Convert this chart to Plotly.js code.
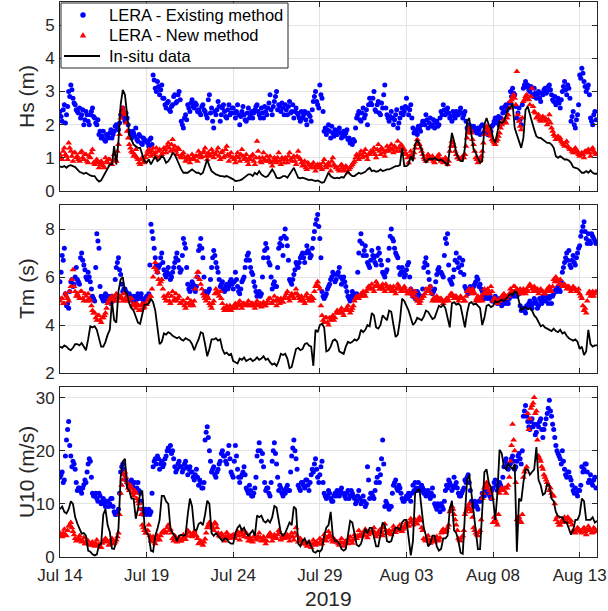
<!DOCTYPE html>
<html>
<head>
<meta charset="utf-8">
<script src="https://cdn.plot.ly/plotly-3.0.1.min.js"></script>
<style>html,body{margin:0;padding:0;background:#fff;}#chart{width:608px;height:611px;}</style>
</head>
<body>
<div id="chart"></div>
<script>
// Values read every 3 hours from 2019-07-14 00:00 (A arrays),
// scatter series also have B arrays read at the half-step (01:30, 04:30, ...).
const startDate = '2019-07-14T00:00:00Z';
const stepHours = 3;
const xTickDates = ['2019-07-14','2019-07-19','2019-07-24','2019-07-29','2019-08-03','2019-08-08','2019-08-13'];
const xTickLabels = ['Jul 14','Jul 19','Jul 24','Jul 29','Aug 03','Aug 08','Aug 13'];
const seriesNames = ['LERA - Existing method','LERA - New method','In-situ data'];

const hsExisting = [
2.40,2.10,2.60,2.30,3.00,3.20,2.80,2.60, 2.40,2.50,2.30,2.00,2.40,2.10,2.30,2.50,
2.20,2.00,1.70,1.60,1.80,1.50,1.65,1.75, 1.60,1.80,2.00,1.85,2.30,2.50,2.10,2.20,
1.80,1.60,1.75,1.90,1.50,1.65,1.40,1.55, 1.50,1.35,1.60,3.50,3.10,3.30,2.90,3.20,
2.80,2.50,2.70,2.40,2.60,2.90,2.70,3.00, 2.10,1.90,2.30,2.60,2.40,2.75,2.50,2.60,
2.45,2.30,2.60,2.40,2.20,2.90,2.50,1.90, 2.30,2.70,2.10,2.50,2.40,2.20,2.60,2.35,
2.50,2.20,2.60,2.00,2.40,2.30,2.10,2.50, 2.30,2.20,2.45,2.60,2.30,2.50,2.20,2.40,
2.50,2.90,2.30,2.70,3.00,2.60,2.40,2.50, 2.60,2.30,2.70,2.40,2.20,2.50,2.30,2.10,
2.20,2.40,2.00,2.30,2.10,2.70,3.00,2.60, 3.20,2.80,1.80,1.70,2.00,1.60,1.75,1.85,
1.70,1.90,1.60,1.80,1.75,1.55,1.45,1.40, 1.50,2.20,2.40,2.10,2.50,2.30,2.00,2.80,
2.60,3.00,2.40,2.70,2.30,2.50,3.20,2.30, 2.10,2.40,2.00,2.30,1.90,2.20,2.50,2.40,
2.80,2.30,2.60,1.90,1.80,1.70,1.90,2.00, 2.10,2.30,1.90,2.20,2.00,1.90,2.10,2.00,
2.40,2.60,2.30,2.50,2.20,2.10,2.30,2.40, 2.30,2.50,2.20,2.40,1.90,2.00,1.80,1.95,
1.80,1.90,1.70,2.00,1.80,1.85,1.75,1.80, 2.00,2.20,2.10,1.95,2.50,2.40,2.60,2.50,
3.00,3.10,2.90,2.20,2.50,2.00,3.10,3.30, 3.20,3.00,2.90,3.10,2.80,3.00,2.70,2.90,
3.10,3.00,3.20,2.90,2.70,2.60,2.80,2.50, 3.00,3.30,2.90,3.10,2.10,2.40,1.90,2.30,
3.50,3.70,3.30,3.00,3.20,2.20,2.00,2.40];
const hsExistingB = [
2.25,2.45,2.05,2.55,2.85,3.05,2.65,2.45, 2.35,2.20,2.45,2.15,2.30,2.00,2.40,2.25,
2.05,2.15,1.80,1.65,1.55,1.70,1.60,1.85, 1.70,1.95,1.90,2.05,2.40,2.20,2.35,2.00,
1.70,1.80,1.65,1.55,1.70,1.45,1.60,1.50, 1.45,1.55,1.40,3.35,3.00,3.15,3.05,2.80,
2.60,2.65,2.45,2.55,2.85,2.65,2.90,2.75, 2.00,2.20,2.15,2.50,2.65,2.55,2.65,2.40,
2.35,2.55,2.45,2.30,2.75,2.35,2.10,2.40, 2.45,2.55,2.30,2.60,2.25,2.45,2.30,2.50,
2.35,2.40,2.30,2.25,2.55,2.15,2.35,2.20, 2.40,2.35,2.55,2.40,2.20,2.35,2.55,2.30,
2.65,2.45,2.55,2.85,2.45,2.55,2.65,2.30, 2.45,2.55,2.35,2.60,2.40,2.35,2.20,2.40,
2.30,2.15,2.35,2.25,2.45,2.85,2.70,2.50, 2.90,2.40,1.90,1.85,1.80,1.95,1.65,1.70,
1.80,1.75,1.70,1.65,1.85,1.60,1.50,1.55, 1.90,2.30,2.15,2.35,2.20,2.45,2.60,2.65,
2.80,2.45,2.60,2.35,2.65,2.90,2.50,2.20, 2.25,2.20,2.15,2.45,2.05,2.35,2.30,2.55,
2.50,2.45,2.20,1.75,1.85,1.95,1.80,2.10, 2.00,2.15,2.05,1.95,2.15,2.05,1.95,2.20,
2.30,2.45,2.40,2.35,2.25,2.40,2.20,2.30, 2.40,2.35,2.30,2.10,1.85,1.95,1.90,1.85,
1.75,1.85,1.95,1.75,1.90,1.70,1.85,1.95, 2.10,2.05,2.25,2.20,2.35,2.55,2.45,2.65,
2.85,2.95,2.55,2.35,2.15,2.60,3.20,3.15, 3.05,3.15,2.85,2.95,2.90,2.80,2.95,3.05,
2.95,3.15,3.05,2.75,2.85,2.70,2.65,2.75, 3.15,3.05,3.20,2.80,2.25,2.00,2.15,2.60,
3.40,3.55,3.15,3.10,2.90,2.10,2.30,2.15];

const hsNew = [
1.10,0.95,1.30,1.05,1.45,1.20,0.90,1.15, 1.05,0.90,1.20,0.95,1.10,0.85,1.00,1.25,
0.80,0.95,0.70,0.90,0.75,1.00,0.85,0.95, 0.80,1.10,0.90,1.40,2.20,2.50,2.30,1.80,
1.40,1.20,1.05,1.25,0.95,0.80,1.00,0.90, 1.10,1.25,1.05,1.30,1.15,1.00,1.25,1.10,
1.30,1.15,1.45,1.20,1.55,1.35,1.10,1.25, 1.00,1.15,0.90,1.05,0.85,1.10,0.95,1.05,
1.20,1.00,1.15,1.30,0.95,1.10,1.25,1.00, 1.10,1.30,0.95,1.20,1.05,1.35,0.90,1.15,
1.00,0.85,1.15,0.90,1.25,0.95,1.10,0.80, 0.95,1.10,0.80,1.50,1.00,0.85,1.15,0.90,
0.90,1.05,0.75,1.00,0.85,1.15,0.80,0.95, 1.00,0.85,1.15,0.90,1.05,0.80,1.20,0.95,
0.75,0.90,0.65,0.80,0.70,0.85,0.60,0.80, 0.80,0.65,0.95,0.70,0.85,0.60,1.00,0.75,
0.70,0.60,0.80,0.65,0.75,0.55,0.70,0.80, 0.90,1.10,0.95,1.20,1.05,1.25,0.95,1.10,
1.15,1.30,1.00,1.40,1.10,1.25,1.05,1.35, 1.20,1.40,1.15,1.30,1.50,1.20,1.35,1.25,
1.10,0.85,1.20,1.00,1.30,1.55,1.40,1.20, 1.00,0.90,1.10,0.95,1.05,0.85,1.00,1.10,
0.90,0.85,1.00,0.80,1.20,1.50,1.35,1.10, 1.00,0.95,1.05,1.10,1.60,1.90,1.75,1.40,
1.00,0.85,0.95,1.20,1.70,1.95,1.80,1.65, 1.50,1.40,1.55,1.75,2.00,2.15,2.05,2.30,
2.70,2.85,2.80,3.60,2.10,1.85,2.70,2.85, 2.80,2.60,3.10,2.40,2.20,2.30,2.10,2.25,
2.20,2.00,2.30,1.90,1.70,1.55,1.65,1.60, 1.45,1.35,1.50,1.30,1.25,1.15,1.30,1.20,
1.05,1.15,1.00,1.20,1.25,1.05,1.30,1.15];
const hsNewB = [
1.00,1.20,1.10,0.95,1.30,1.05,1.15,1.00, 0.95,1.15,1.00,1.10,0.90,1.05,1.15,0.85,
0.90,0.85,0.80,0.85,0.70,0.90,0.95,0.80, 0.90,0.95,1.20,1.70,2.35,2.40,2.05,1.60,
1.30,1.15,1.10,1.00,0.85,0.95,0.85,1.00, 1.20,1.15,1.20,1.10,1.30,1.20,1.05,1.15,
1.25,1.35,1.30,1.40,1.25,1.20,1.30,1.05, 1.10,1.00,0.95,1.00,0.95,1.00,1.05,0.90,
1.10,1.05,1.20,1.05,1.15,1.05,1.15,1.10, 1.20,1.05,1.15,1.00,1.25,1.10,1.05,1.00,
0.95,1.05,1.00,1.10,1.05,1.00,0.90,1.00, 1.05,0.90,1.00,1.20,0.90,1.00,0.95,1.05,
0.95,0.85,0.90,0.95,1.00,0.90,1.00,0.85, 0.95,1.05,0.95,1.00,0.90,1.05,1.00,0.85,
0.80,0.70,0.85,0.75,0.80,0.70,0.75,0.70, 0.70,0.85,0.75,0.80,0.75,0.90,0.80,0.70,
0.65,0.75,0.70,0.60,0.70,0.65,0.75,0.85, 1.00,1.05,1.10,1.00,1.15,1.05,1.10,1.20,
1.20,1.10,1.25,1.20,1.30,1.15,1.20,1.25, 1.30,1.25,1.35,1.20,1.30,1.40,1.25,1.15,
1.00,1.05,1.10,1.15,1.40,1.45,1.30,1.10, 0.95,1.00,1.05,1.00,0.90,0.95,1.05,0.95,
0.95,0.90,0.95,0.90,1.35,1.45,1.20,1.00, 0.95,1.00,1.00,1.35,1.75,1.85,1.55,1.20,
0.95,0.90,1.05,1.45,1.85,1.90,1.70,1.55, 1.45,1.50,1.65,1.90,2.05,2.10,2.20,2.50,
2.75,2.90,2.60,2.30,1.95,2.20,2.75,2.90, 2.75,2.85,2.55,2.35,2.25,2.15,2.20,2.15,
2.10,2.15,2.05,1.80,1.65,1.60,1.55,1.50, 1.40,1.45,1.35,1.25,1.20,1.25,1.15,1.10,
1.10,1.10,1.20,1.15,1.15,1.25,1.20,1.10];

const hsInsitu = [
0.74,0.72,0.75,0.70,0.76,0.78,0.75,0.72, 0.65,0.58,0.55,0.52,0.55,0.50,0.47,0.45,
0.45,0.35,0.28,0.32,0.45,0.53,0.70,0.80, 0.80,1.35,0.80,1.50,2.60,3.05,2.90,2.30,
1.70,1.55,1.40,1.35,1.30,1.30,1.10,0.90, 0.85,0.95,0.80,0.95,1.05,0.90,0.95,1.05,
1.00,0.85,0.90,1.00,1.15,1.10,0.95,0.75, 0.65,0.55,0.55,0.55,0.60,0.65,0.60,0.55,
0.55,0.50,0.55,0.75,0.95,0.75,0.60,0.55, 0.50,0.48,0.45,0.45,0.43,0.45,0.42,0.40,
0.35,0.30,0.30,0.32,0.35,0.40,0.45,0.50, 0.50,0.45,0.55,0.50,0.60,0.50,0.45,0.42,
0.45,0.55,0.65,0.55,0.40,0.38,0.40,0.45, 0.45,0.40,0.50,0.60,0.70,0.55,0.40,0.38,
0.40,0.38,0.35,0.33,0.34,0.32,0.30,0.32, 0.28,0.25,0.27,0.40,0.55,0.45,0.40,0.38,
0.40,0.38,0.42,0.40,0.50,0.60,0.50,0.45, 0.45,0.50,0.55,0.52,0.55,0.58,0.65,0.70,
0.60,0.62,0.58,0.60,0.65,0.60,0.62,0.65, 0.65,0.68,0.72,0.75,0.75,0.78,1.30,0.75,
0.75,0.80,1.05,0.90,1.40,1.55,1.40,1.25, 1.00,0.85,0.95,0.98,0.95,1.00,0.95,0.92,
0.95,0.90,0.85,0.75,1.20,1.75,1.50,1.15, 1.00,0.90,0.90,1.30,2.10,2.20,1.70,1.25,
1.15,1.00,0.85,0.90,2.00,2.20,2.00,1.90, 1.60,1.45,1.80,2.10,2.05,2.10,2.30,2.50,
2.50,2.65,1.90,1.70,1.50,1.30,1.60,2.45, 2.55,2.30,2.05,1.85,1.65,1.60,1.60,1.55,
1.50,1.45,1.45,1.40,1.30,1.05,1.00,1.05, 1.00,0.95,0.95,0.92,0.85,0.72,0.70,0.68,
0.62,0.55,0.55,0.60,0.55,0.62,0.55,0.52,0.52];

const tmExisting = [
5.80,6.90,7.20,4.80,4.70,5.80,5.60,6.00, 5.90,5.70,7.00,6.50,6.00,6.20,5.80,5.20,
5.00,7.80,7.20,5.20,5.00,5.30,5.10,5.00, 5.20,5.10,6.40,6.80,6.10,5.40,5.50,5.30,
5.30,5.10,5.20,5.00,5.30,5.20,5.10,5.00, 5.20,5.30,8.20,7.60,6.80,6.20,6.50,7.00,
6.30,6.00,6.40,5.90,6.20,6.60,7.00,6.40, 6.30,7.60,7.20,5.70,5.40,5.80,5.50,5.60,
7.10,7.60,6.80,5.40,5.30,5.50,6.40,7.10, 6.60,6.20,5.60,5.80,5.40,5.70,5.60,5.90,
5.50,6.20,5.60,5.30,5.80,6.00,6.70,7.00, 6.40,6.10,5.60,5.20,5.40,5.30,6.80,7.40,
6.80,6.50,5.50,5.80,5.60,7.20,7.60,6.90, 8.00,7.30,5.90,5.70,6.10,6.60,6.40,6.80,
7.00,6.60,7.30,7.00,6.90,7.60,8.20,8.60, 7.60,5.40,5.10,5.30,5.60,5.90,6.20,5.80,
6.10,6.40,5.70,6.00,5.60,5.20,5.00,5.40, 5.10,5.30,7.00,7.80,6.90,7.30,6.60,6.40,
7.10,6.80,6.50,7.20,6.70,6.20,6.00,6.30, 7.20,8.00,7.50,7.00,6.80,6.10,6.40,6.00,
6.30,6.60,5.50,5.20,5.10,5.40,5.00,5.20, 6.40,6.80,6.20,5.60,5.30,5.50,6.10,6.40,
6.20,6.00,7.60,7.80,5.90,5.70,6.30,7.00, 6.40,6.20,6.70,5.60,5.40,5.50,5.40,5.60,
5.80,5.90,5.70,5.40,5.10,5.20,5.30,5.10, 5.00,5.20,4.90,5.10,4.80,5.00,5.10,4.90,
5.20,5.30,5.40,5.20,5.30,4.60,4.70,4.50, 4.80,5.00,4.70,5.10,4.90,4.80,5.00,5.20,
5.00,5.20,5.10,4.90,5.30,5.50,5.60,5.40, 6.20,6.60,7.00,7.10,6.40,6.90,6.50,7.00,
7.30,7.90,8.30,7.60,7.80,7.40,7.70,7.50];
const tmExistingB = [
6.20,6.70,5.30,4.90,5.40,5.90,5.70,6.40, 5.80,6.80,6.70,6.30,5.90,6.00,5.50,5.10,
6.40,7.50,5.60,5.10,5.20,5.00,5.20,4.90, 5.00,5.90,6.60,6.30,5.70,5.50,5.40,5.20,
5.20,5.00,5.10,5.20,5.10,5.30,5.00,5.10, 5.10,6.50,7.90,7.20,6.50,6.40,6.80,6.60,
6.10,6.20,6.10,6.00,6.40,6.80,6.70,6.20, 6.90,7.40,6.40,5.50,5.60,5.70,5.40,6.00,
7.30,7.20,6.00,5.20,5.40,5.90,6.80,6.90, 6.40,5.90,5.70,5.50,5.60,5.50,5.80,5.70,
5.80,5.90,5.40,5.50,5.90,6.40,6.90,6.70, 6.20,5.80,5.40,5.30,5.20,6.00,7.10,7.20,
6.60,6.00,5.70,5.60,6.40,7.40,7.30,7.70, 7.60,6.70,5.80,5.90,6.30,6.50,6.60,6.90,
6.80,7.00,7.10,6.80,7.20,7.90,8.40,8.10, 6.80,5.20,5.20,5.50,5.70,6.00,6.10,5.90,
6.20,6.00,5.90,5.80,5.40,5.10,5.20,5.30, 5.20,6.20,7.50,7.40,7.10,6.90,6.50,6.70,
6.90,6.60,6.90,7.00,6.50,6.10,6.20,6.70, 7.70,7.60,7.20,6.90,6.40,6.20,6.20,6.10,
6.50,6.00,5.30,5.40,5.20,5.30,5.10,5.50, 6.60,6.50,5.90,5.40,5.40,5.80,6.30,6.20,
6.10,6.90,7.40,6.50,5.80,6.00,6.70,6.60, 6.80,6.50,6.10,5.50,5.30,5.60,5.50,5.70,
6.00,5.60,5.50,5.20,5.30,5.10,5.20,5.00, 5.10,5.00,5.00,4.90,5.10,4.90,5.00,5.10,
5.30,5.20,5.30,5.40,4.80,4.70,4.60,4.80, 4.90,4.80,4.90,5.00,4.70,5.10,4.90,5.10,
5.10,4.90,5.20,5.20,5.40,5.40,5.50,5.80, 6.40,6.80,6.70,6.50,6.70,6.60,6.80,7.20,
7.70,8.10,7.90,7.40,7.50,7.80,7.60,7.40];

const tmNew = [
5.00,5.10,4.90,5.20,5.00,5.60,6.30,5.40, 5.30,5.10,5.40,5.00,5.20,5.30,5.00,4.60,
4.50,4.20,4.40,4.10,4.30,4.50,4.90,5.10, 5.20,5.00,5.30,5.10,5.20,5.00,5.10,5.20,
5.00,5.10,4.90,4.70,4.80,4.60,4.90,4.75, 4.85,5.10,5.20,6.00,6.60,6.20,5.70,5.90,
5.20,5.00,5.30,4.90,5.40,5.10,5.00,5.20, 4.90,5.00,4.70,5.10,4.80,4.90,5.00,6.00,
6.20,5.70,5.30,5.10,5.20,4.90,4.70,5.00, 5.50,5.30,5.40,4.90,4.60,4.80,4.70,4.60,
4.70,4.90,4.80,5.00,4.70,4.90,4.85,5.00, 4.80,4.90,4.70,5.00,4.85,4.75,4.95,4.80,
5.00,5.10,4.90,5.20,4.80,5.00,5.10,4.95, 5.20,5.40,5.00,5.30,5.10,5.50,5.20,5.00,
5.10,4.90,5.30,5.00,5.20,5.10,5.60,5.80, 5.50,4.40,4.10,4.30,4.00,4.20,4.40,4.30,
4.60,4.50,4.70,4.40,4.60,4.80,4.50,4.70, 5.00,5.20,5.10,5.30,5.40,5.20,5.50,5.60,
5.70,5.40,5.80,5.60,5.50,5.70,5.40,5.60, 5.50,5.40,5.60,5.30,5.70,5.50,5.40,5.60,
5.40,5.30,5.50,5.20,5.40,5.00,4.90,5.10, 5.20,5.50,5.40,5.60,5.00,5.10,5.20,5.00,
5.10,4.90,5.00,5.10,5.20,5.30,5.10,5.20, 5.00,5.20,5.10,5.00,5.40,5.50,5.30,5.40,
5.00,5.20,5.10,5.00,5.50,5.30,5.40,5.60, 5.00,5.10,4.90,5.00,5.20,5.30,5.10,5.20,
5.50,5.40,5.60,5.50,5.30,5.40,5.50,5.30, 5.40,5.70,5.50,5.60,5.40,5.30,5.50,5.40,
5.30,5.50,5.60,5.40,5.90,6.00,5.80,5.90, 5.60,5.70,5.50,5.60,5.40,5.60,5.50,5.40,
5.30,5.10,4.60,4.50,5.30,5.20,5.40,5.30];
const tmNewB = [
5.10,4.90,5.30,5.10,5.40,5.90,5.60,5.20, 5.20,5.40,5.10,5.30,5.00,5.10,4.80,4.50,
4.30,4.40,4.20,4.30,4.40,4.70,5.00,5.00, 5.10,5.20,5.00,5.20,5.10,5.30,5.00,5.10,
5.10,4.80,4.80,4.90,4.60,4.80,4.70,4.90, 5.00,5.20,5.50,6.40,6.30,5.90,5.80,5.50,
5.10,5.20,5.00,5.20,5.00,5.30,5.10,4.90, 5.00,4.80,4.90,4.90,5.00,4.80,5.50,6.20,
5.90,5.50,5.20,5.00,5.10,4.80,4.90,5.30, 5.40,5.20,5.10,4.70,4.70,4.60,4.80,4.70,
4.80,4.70,4.90,4.80,4.90,4.80,4.90,4.80, 4.90,4.80,4.90,4.80,4.90,4.90,4.80,4.90,
5.10,4.90,5.00,5.00,5.10,4.90,5.00,5.10, 5.30,5.10,5.20,5.20,5.30,5.30,5.10,5.20,
5.00,5.20,5.10,5.10,5.00,5.40,5.70,5.60, 4.80,4.20,4.30,4.10,4.30,4.30,4.20,4.50,
4.50,4.60,4.50,4.60,4.70,4.60,4.60,4.80, 5.10,5.10,5.20,5.20,5.30,5.40,5.60,5.50,
5.50,5.60,5.70,5.50,5.60,5.50,5.70,5.50, 5.60,5.50,5.40,5.50,5.60,5.40,5.50,5.50,
5.30,5.40,5.30,5.30,5.10,5.00,5.00,5.20, 5.30,5.40,5.50,5.30,5.10,5.00,5.10,5.10,
5.00,5.00,5.10,5.00,5.30,5.20,5.20,5.10, 5.10,5.10,5.00,5.20,5.40,5.40,5.50,5.30,
5.10,5.00,5.20,5.30,5.40,5.50,5.30,5.40, 5.10,5.00,5.00,5.10,5.20,5.20,5.20,5.30,
5.40,5.60,5.40,5.40,5.50,5.30,5.40,5.50, 5.60,5.60,5.40,5.50,5.50,5.40,5.40,5.30,
5.40,5.40,5.50,5.60,5.80,5.90,5.70,5.70, 5.60,5.60,5.60,5.50,5.50,5.50,5.40,5.50,
5.20,4.80,4.70,5.00,5.40,5.30,5.20,5.40];

const tmInsitu = [
3.10,3.05,3.15,3.10,3.00,2.95,3.05,3.20, 3.20,3.15,3.25,3.10,2.95,3.40,3.95,3.90,
3.95,3.80,3.40,3.10,3.10,3.30,3.60,3.80, 5.00,4.20,4.10,5.40,5.90,6.00,5.40,5.30,
4.90,4.70,4.60,4.30,4.10,4.05,4.40,4.85, 4.85,4.90,5.10,4.95,4.60,3.80,3.20,3.30,
3.65,3.60,3.70,3.65,3.55,3.50,3.45,3.50, 3.40,3.35,3.45,3.40,3.35,3.20,2.95,3.20,
3.40,3.70,3.65,3.20,2.70,3.00,3.40,3.40, 3.45,3.35,3.40,3.00,2.80,2.85,2.75,2.80,
2.50,2.45,2.40,2.60,2.55,2.65,2.50,2.55, 2.60,2.50,2.55,2.65,2.55,2.60,2.70,2.55,
2.60,2.45,2.35,2.40,2.30,2.50,2.80,2.75, 2.80,2.60,2.20,2.25,2.70,3.00,3.05,2.95,
3.00,3.20,3.25,3.15,3.10,2.30,3.80,3.70, 4.00,4.05,3.90,2.90,2.95,3.10,3.35,3.40,
3.30,2.90,2.85,2.80,3.10,3.30,3.25,3.30, 3.40,3.35,3.45,3.80,3.70,3.80,4.00,3.95,
4.50,4.40,3.90,3.85,4.00,4.40,4.30,4.20, 4.60,4.55,4.00,3.50,3.60,4.20,5.10,5.00,
4.80,4.60,4.30,4.00,4.10,4.30,4.25,4.20, 4.35,4.60,4.55,4.40,4.25,4.30,4.60,4.80,
4.75,4.85,4.70,4.30,3.90,4.90,4.95,4.85, 4.90,4.80,4.40,3.90,4.50,4.90,4.95,4.85,
4.90,4.80,4.70,4.00,4.30,4.80,4.85,4.75, 4.80,5.00,4.95,5.00,5.05,5.00,5.10,5.20,
5.30,5.25,5.40,5.35,5.00,4.60,4.70,4.75, 4.65,4.70,4.60,4.40,4.30,4.10,3.95,4.00,
3.90,3.85,3.80,3.75,3.85,3.75,3.70,3.80, 3.65,3.70,3.55,3.45,3.40,3.35,3.40,3.30,
3.00,3.10,2.75,2.90,3.80,3.20,3.10,3.15,3.15];

const u10Existing = [
15.0,16.0,14.5,22.0,25.5,19.0,18.0,16.5, 12.5,13.0,12.0,13.6,14.0,17.5,18.0,12.0,
11.5,11.0,12.0,10.0,11.0,9.5,10.5,10.0, 11.0,8.5,8.0,9.0,16.0,17.5,15.5,14.0,
13.5,14.5,13.0,12.5,14.0,12.0,9.0,8.5, 8.0,9.0,8.5,17.0,18.5,19.0,16.5,18.0,
17.5,19.0,20.5,21.0,20.0,17.0,16.5,18.0, 17.0,16.5,18.0,15.5,17.0,16.0,14.5,16.5,
13.5,14.0,13.0,22.0,24.5,20.0,16.0,17.0, 15.0,16.5,18.0,20.0,19.0,17.5,21.0,16.0,
15.0,21.0,16.5,14.0,15.5,17.0,13.0,12.0, 12.5,11.5,13.0,19.0,21.5,18.0,17.0,12.5,
13.0,11.5,18.0,21.5,17.5,12.5,13.0,11.5, 12.0,13.5,12.5,19.0,22.0,18.5,13.5,12.5,
14.0,13.0,14.5,12.5,15.5,16.0,18.5,15.0, 15.5,18.0,12.0,11.0,12.5,11.0,10.5,12.0,
12.5,11.5,13.0,12.0,11.0,12.5,11.5,12.0, 11.0,10.5,12.5,10.0,11.5,9.5,17.0,11.0,
12.0,11.0,14.0,16.5,15.5,22.0,9.5,10.0, 9.0,9.5,13.5,14.5,12.5,13.0,11.0,10.5,
11.5,12.0,10.5,13.5,14.0,12.5,13.0,13.5, 12.0,11.5,12.5,11.0,13.0,10.0,9.0,9.5,
10.0,9.0,12.5,13.0,14.0,12.5,15.0,14.0, 12.0,11.5,12.5,14.5,15.0,14.0,10.5,9.5,
10.0,9.0,10.5,12.0,11.5,13.0,12.5,11.0, 13.0,14.5,12.5,14.0,13.0,17.0,18.5,16.5,
17.5,19.0,16.5,18.0,19.5,17.5,26.5,28.5, 25.5,24.0,26.0,25.0,23.5,24.5,26.0,22.5,
25.0,27.0,29.5,26.5,24.0,21.0,19.5,18.5, 20.0,16.5,15.0,16.0,14.5,12.5,13.0,11.5,
12.5,17.0,16.5,17.5,14.0,15.5,13.5,15.0];
const u10ExistingB = [
15.5,14.0,19.0,24.0,21.0,17.0,17.5,14.0, 13.0,12.5,13.0,14.5,16.0,18.5,15.0,11.5,
12.0,10.5,11.5,10.5,10.0,10.5,9.5,11.0, 9.5,8.0,8.5,12.0,17.0,16.5,14.5,13.5,
14.0,13.5,14.0,13.0,12.5,10.5,8.0,9.0, 8.5,8.0,12.0,18.0,17.5,18.5,17.5,17.0,
18.5,20.0,20.0,19.5,18.5,16.0,17.5,17.0, 16.0,17.5,17.0,16.5,16.0,15.0,15.5,15.0,
14.5,13.0,14.0,23.5,22.5,18.0,16.5,15.5, 16.0,17.5,19.5,19.0,18.0,19.5,18.5,15.5,
18.0,19.0,15.0,15.0,16.0,15.5,12.5,13.5, 11.5,12.0,15.0,20.0,20.0,19.5,14.0,13.0,
12.0,14.0,20.0,19.5,15.0,13.5,12.0,12.5, 13.0,12.5,16.0,20.5,20.0,16.5,13.0,14.0,
13.5,14.5,13.5,14.0,16.5,17.5,16.5,14.0, 17.0,14.0,11.5,11.5,12.0,10.5,11.5,11.5,
12.0,12.5,12.0,11.5,12.0,11.0,12.5,11.5, 10.0,11.5,11.0,10.5,10.5,10.0,14.5,12.0,
11.5,12.5,15.0,14.0,18.5,17.5,10.5,9.5, 9.5,12.0,14.0,13.0,13.5,12.0,10.5,11.0,
11.0,11.5,12.0,12.5,13.0,14.0,12.5,13.0, 12.5,12.0,11.5,12.0,11.5,9.5,10.0,8.5,
9.5,10.5,13.5,14.5,13.5,13.0,13.5,13.0, 11.5,12.0,13.0,14.0,15.5,12.5,10.0,10.5,
9.5,10.5,11.0,11.5,12.5,12.0,11.5,12.5, 14.0,13.5,13.0,13.5,15.0,18.0,17.5,17.5,
18.5,18.0,17.0,19.0,18.5,20.0,27.5,26.5, 24.5,25.5,24.5,23.0,25.0,25.5,24.0,24.0,
26.0,28.0,27.5,25.0,22.5,20.0,19.0,17.5, 18.0,15.5,16.0,15.0,13.5,12.0,12.0,12.5,
13.5,16.0,17.5,16.0,14.5,14.0,14.5,13.0];

const u10New = [
4.5,3.8,5.2,4.0,5.8,6.5,4.8,3.5, 3.2,4.0,2.8,3.6,2.5,3.0,2.2,2.8,
2.0,3.2,2.4,1.8,2.9,3.5,3.0,2.5, 3.5,2.5,3.2,4.5,12.0,14.5,16.0,14.0,
12.5,13.0,11.5,12.0,10.5,9.0,6.0,5.0, 4.5,6.0,3.0,3.8,2.5,4.0,3.2,4.5,
5.0,4.5,6.0,5.2,3.5,4.0,2.8,3.6, 3.0,4.2,3.3,5.0,4.5,3.8,4.8,4.0,
2.5,3.0,2.2,3.4,5.5,6.5,6.0,5.0, 6.2,4.5,3.8,4.2,3.0,4.6,3.5,4.0,
4.2,3.5,4.8,3.2,5.0,3.8,4.5,3.0, 3.5,2.8,4.0,3.2,4.5,3.0,3.8,2.5,
3.8,4.5,3.0,4.2,3.5,5.0,3.2,4.0, 3.6,4.2,3.0,4.5,3.2,5.5,2.8,3.5,
2.5,3.0,2.0,2.8,1.8,3.2,2.2,2.6, 3.5,2.5,4.2,3.0,4.8,3.8,2.8,3.2,
2.8,2.2,3.5,2.0,3.0,2.5,3.8,2.6, 4.2,3.5,5.0,3.8,4.5,5.2,3.6,4.8,
4.5,5.5,3.8,4.6,5.2,4.0,6.2,4.4, 5.0,4.2,5.8,4.6,5.4,6.0,4.8,5.5,
6.5,5.8,7.2,6.0,7.0,6.2,7.5,5.5, 3.5,3.0,4.0,2.6,3.5,2.8,3.8,3.2,
4.5,5.2,4.8,5.5,8.5,9.5,8.0,6.0, 3.5,3.0,4.0,8.0,9.0,10.0,8.5,5.5,
4.5,4.0,5.0,11.0,13.0,14.0,13.5,12.0, 6.5,7.0,6.0,12.0,13.0,12.5,12.0,13.5,
18.0,25.0,20.0,7.0,7.5,6.5,15.0,16.5, 27.0,26.0,28.5,30.0,27.5,19.0,18.0,16.5,
15.0,14.0,12.5,12.0,11.5,7.0,6.5,6.0, 7.0,7.5,6.5,7.2,6.8,5.0,4.5,5.5,
5.0,4.5,5.5,4.2,5.8,5.0,4.6,5.2];
const u10NewB = [
4.0,4.5,4.2,5.0,6.0,5.5,4.2,3.0, 3.5,3.2,3.0,2.5,3.2,2.4,2.6,2.2,
2.6,2.2,2.0,2.6,3.2,2.8,2.2,3.0, 3.0,2.8,3.8,8.0,13.5,15.5,15.0,13.0,
13.5,12.0,12.5,11.0,10.0,8.0,5.5,4.5, 5.0,4.0,3.5,2.8,3.2,3.5,4.0,4.8,
4.8,5.5,5.0,4.5,3.0,3.5,3.2,3.0, 3.5,3.8,4.0,4.6,4.0,4.4,4.2,3.5,
2.8,2.6,2.8,4.5,6.0,5.8,5.5,6.5, 5.5,4.0,4.4,3.6,3.8,4.0,3.8,3.6,
3.8,4.2,4.0,4.5,4.2,4.4,3.6,3.8, 3.0,3.8,3.5,3.8,3.6,3.4,3.2,3.0,
4.2,3.8,3.6,3.8,4.2,4.5,3.8,3.5, 3.8,3.6,3.8,3.8,4.5,4.0,3.2,3.0,
2.8,2.4,2.6,2.2,2.4,2.6,2.8,2.4, 3.0,3.2,3.6,3.6,4.2,3.2,3.4,2.8,
2.5,2.8,2.6,2.8,2.6,3.2,3.0,3.2, 3.8,4.0,4.2,4.4,4.0,4.6,4.2,4.5,
5.0,4.5,4.2,5.0,4.6,5.5,5.0,4.8, 4.6,5.0,5.2,5.0,5.0,5.5,5.2,6.0,
6.0,6.5,6.8,6.5,6.5,7.0,6.8,5.0, 3.2,3.4,3.2,3.0,3.2,3.4,3.0,3.6,
5.0,4.6,5.0,6.0,9.0,9.0,7.0,5.0, 3.2,3.6,5.0,8.5,9.5,9.0,7.5,5.0,
4.2,4.6,7.0,12.0,13.5,13.0,12.5,11.0, 7.5,6.5,8.0,12.5,12.5,13.0,13.0,15.0,
21.0,22.0,14.0,7.5,6.8,8.0,16.0,17.0, 24.0,28.0,29.0,27.0,22.0,18.5,17.0,15.5,
14.5,13.5,13.0,11.5,10.0,7.5,6.0,6.5, 6.8,7.0,7.5,6.5,6.0,4.8,5.0,5.2,
4.8,5.2,4.8,5.0,5.2,4.5,5.5,4.8];

const u10Insitu = [
9.0,9.5,8.5,8.2,9.0,10.5,10.0,7.5, 6.3,5.5,4.4,4.5,4.0,1.2,1.0,0.5,
0.3,0.5,2.2,2.5,8.0,9.0,6.0,4.7, 1.6,1.5,3.0,5.3,15.0,18.0,18.5,13.0,
12.5,11.0,11.0,7.2,9.0,12.0,12.5,6.0, 4.5,4.0,1.2,1.0,4.0,5.3,7.0,11.5,
11.5,10.5,10.0,5.4,4.5,4.0,3.0,4.0, 4.2,4.0,4.2,8.0,11.0,9.5,5.2,5.0,
6.2,6.5,6.0,8.0,10.6,10.0,4.5,4.0, 4.5,4.0,3.4,3.0,3.5,3.4,2.8,2.5,
2.5,4.5,5.5,6.0,5.0,5.5,4.5,4.0, 4.5,5.0,4.0,7.8,7.5,7.8,6.8,6.5,
7.0,6.5,7.5,9.6,9.3,7.0,4.5,4.0, 4.5,5.5,6.5,6.0,9.5,9.0,2.5,2.0,
3.0,3.5,2.5,3.0,2.0,1.0,0.8,1.2, 1.0,1.5,4.0,5.5,6.0,8.5,4.0,3.0,
3.0,2.5,1.5,1.2,1.5,4.0,6.8,6.5, 4.0,2.3,2.0,2.5,4.0,5.3,4.5,5.5,
5.5,3.5,2.0,2.0,4.0,6.5,6.0,3.0, 2.8,3.0,4.5,5.5,5.5,5.0,6.5,7.0,
7.0,4.0,0.3,3.0,12.0,12.5,12.8,9.0, 5.5,4.0,2.0,2.5,4.0,4.0,2.0,1.2,
1.5,3.5,3.5,4.0,9.0,10.6,5.0,4.5, 3.0,0.8,0.6,8.0,14.5,15.5,12.0,8.5,
6.0,1.5,1.5,10.0,16.0,16.5,14.0,13.0, 11.0,7.0,12.0,20.2,19.5,17.0,16.5,17.5,
17.0,16.5,17.5,1.0,11.0,10.5,14.0,16.5, 16.5,15.5,16.0,16.5,20.7,14.5,13.5,11.7,
12.0,13.8,13.5,11.0,10.5,8.5,7.7,7.5, 7.5,6.5,6.5,5.5,4.2,5.0,7.0,7.0,
8.0,11.0,10.5,7.0,7.0,7.0,7.5,6.5,6.8];

function stamp(ms){ return new Date(ms).toISOString().slice(0,16).replace('T',' '); }
function timesFor(n, offsetHours){
  const t0 = Date.parse(startDate);
  const out = [];
  for (let i = 0; i < n; i++) out.push(stamp(t0 + (i * stepHours + offsetHours) * 3600000));
  return out;
}
function merged(a, b){
  const ta = timesFor(a.length, 0), tb = timesFor(b.length, stepHours / 2);
  const x = [], y = [];
  for (let i = 0; i < Math.max(a.length, b.length); i++) {
    if (i < a.length) { x.push(ta[i]); y.push(a[i]); }
    if (i < b.length) { x.push(tb[i]); y.push(b[i]); }
  }
  return {x, y};
}

const BLUE = 'rgb(0,0,255)', RED = 'rgb(255,0,0)', BLACK = '#000000';
const FONT = 'Liberation Sans, Arial, Helvetica, sans-serif';
const AX = '#262626';

function group(ex, exB, nw, nwB, insitu, xa, ya){
  const e = merged(ex, exB), n = merged(nw, nwB);
  return [
    {x: e.x, y: e.y, xaxis: xa, yaxis: ya, type:'scatter', mode:'markers',
     name: seriesNames[0], showlegend:false,
     marker:{symbol:'circle', size:5, color:BLUE, line:{width:0}}},
    {x: n.x, y: n.y, xaxis: xa, yaxis: ya, type:'scatter', mode:'markers',
     name: seriesNames[1], showlegend:false,
     marker:{symbol:'triangle-up', size:6, color:RED, line:{width:0}}},
    {x: timesFor(insitu.length, 0), y: insitu, xaxis: xa, yaxis: ya, type:'scatter', mode:'lines',
     name: seriesNames[2], showlegend:false,
     line:{color:BLACK, width:1.8}}
  ];
}

const data = [].concat(
  group(hsExisting, hsExistingB, hsNew, hsNewB, hsInsitu, 'x3', 'y3'),
  group(tmExisting, tmExistingB, tmNew, tmNewB, tmInsitu, 'x2', 'y2'),
  group(u10Existing, u10ExistingB, u10New, u10NewB, u10Insitu, 'x', 'y')
);

function xAxis(anchor, showLabels){
  return {
    type:'date', anchor: anchor, domain:[0,1],
    range:['2019-07-14','2019-08-14'],
    tickvals: xTickDates, ticktext: xTickLabels, showticklabels: showLabels,
    ticklabeloverflow:'allow', ticklabelstandoff: 3,
    ticks:'inside', ticklen:5, tickcolor: AX, mirror:'ticks',
    showline:true, linecolor:AX, linewidth:1,
    showgrid:true, gridcolor:'#e3e3e3', gridwidth:1, zeroline:false,
    tickfont:{family:FONT, size:17, color:AX}
  };
}
function yAxis(domain, range, tickvals){
  return {
    domain: domain, range: range, tickvals: tickvals,
    ticklabelstandoff: 1,
    ticks:'inside', ticklen:5, tickcolor: AX, mirror:'ticks',
    showline:true, linecolor:AX, linewidth:1,
    showgrid:true, gridcolor:'#e3e3e3', gridwidth:1, zeroline:false,
    tickfont:{family:FONT, size:17, color:AX}
  };
}

// Legend box (MATLAB style, compact rows) built as layout shapes + annotations.
const PLOT_L = 60, PLOT_W = 537, PLOT_B = 557, PLOT_H = 555;
const px = v => (v - PLOT_L) / PLOT_W;
const py = v => (PLOT_B - v) / PLOT_H;
const legendRows = [15, 35, 56];
const legendShapes = [
  {type:'rect', xref:'paper', yref:'paper', x0:px(61), x1:px(288), y0:py(68), y1:py(3),
   fillcolor:'#ffffff', line:{color:AX, width:1}, layer:'above'},
  {type:'circle', xref:'paper', yref:'paper', xsizemode:'pixel', ysizemode:'pixel',
   xanchor:px(83), yanchor:py(legendRows[0]), x0:-2.7, x1:2.7, y0:-2.7, y1:2.7,
   fillcolor:BLUE, line:{width:0}, layer:'above'},
  {type:'path', xref:'paper', yref:'paper', xsizemode:'pixel', ysizemode:'pixel',
   xanchor:px(83), yanchor:py(legendRows[1]), path:'M -3.2 -2.6 L 3.2 -2.6 L 0 3.0 Z',
   fillcolor:RED, line:{width:0}, layer:'above'},
  {type:'line', xref:'paper', yref:'paper', x0:px(64), x1:px(100), y0:py(legendRows[2]), y1:py(legendRows[2]),
   line:{color:BLACK, width:1.8}, layer:'above'}
];
const legendTexts = seriesNames.map((name, i) => ({
  text:name, xref:'paper', yref:'paper', x:px(107), y:py(legendRows[i]), showarrow:false,
  xanchor:'left', yanchor:'middle', font:{family:FONT, size:16.5, color:'#000000'}
}));

const layout = {
  width:608, height:611,
  margin:{l:60, r:11, t:2, b:54},
  paper_bgcolor:'#ffffff', plot_bgcolor:'#ffffff',
  showlegend:false,
  xaxis: xAxis('y', true),
  xaxis2: xAxis('y2', false),
  xaxis3: xAxis('y3', false),
  yaxis: yAxis([0, 0.3063], [0, 32], [0,10,20,30]),
  yaxis2: yAxis([0.3315, 0.6342], [2, 9], [2,4,6,8]),
  yaxis3: yAxis([0.6595, 1], [0, 5.7], [0,1,2,3,4,5]),
  shapes: legendShapes,
  annotations: legendTexts.concat([
    {text:'Hs (m)', xref:'paper', yref:'paper', x:px(26), y:py(97), textangle:-90, showarrow:false,
     xanchor:'center', yanchor:'middle', font:{family:FONT, size:21, color:AX}},
    {text:'Tm (s)', xref:'paper', yref:'paper', x:px(26), y:py(289), textangle:-90, showarrow:false,
     xanchor:'center', yanchor:'middle', font:{family:FONT, size:21, color:AX}},
    {text:'U10 (m/s)', xref:'paper', yref:'paper', x:px(26), y:py(472), textangle:-90, showarrow:false,
     xanchor:'center', yanchor:'middle', font:{family:FONT, size:21, color:AX}},
    {text:'2019', xref:'paper', yref:'paper', x:0.5, y:py(598), showarrow:false,
     xanchor:'center', yanchor:'middle', font:{family:FONT, size:21, color:AX}}
  ])
};

Plotly.newPlot('chart', data, layout, {displayModeBar:false, staticPlot:true});
</script>
</body>
</html>
